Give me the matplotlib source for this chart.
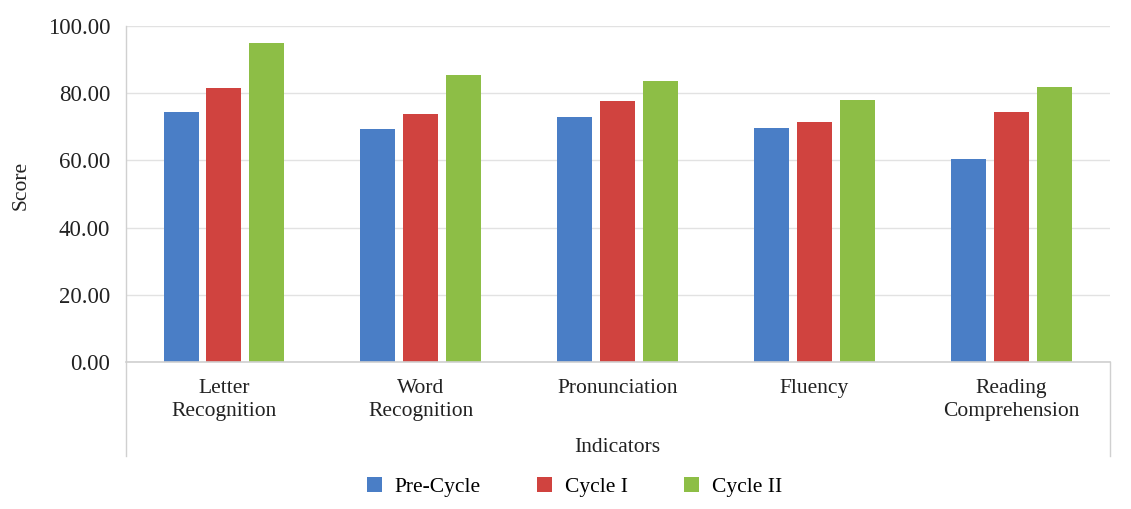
import matplotlib
matplotlib.use("Agg")
import matplotlib.pyplot as plt
import numpy as np
from matplotlib.lines import Line2D
from matplotlib.patches import Patch

categories = ["Letter\nRecognition", "Word\nRecognition", "Pronunciation", "Fluency", "Reading\nComprehension"]
series_names = ["Pre-Cycle", "Cycle I", "Cycle II"]
pre_cycle = [74.3, 69.3, 72.8, 69.5, 60.3]
cycle_1 = [81.5, 73.7, 77.6, 71.3, 74.3]
cycle_2 = [94.9, 85.4, 83.6, 77.9, 81.8]
yticks = [0, 20, 40, 60, 80, 100]

colors = ["#4A7EC6", "#D0433F", "#8DBE46"]

plt.rcParams['font.family'] = ['Liberation Serif', 'DejaVu Serif']

fig = plt.figure(figsize=(11.31, 5.09), dpi=100)
ax = fig.add_axes([0.111, 0.289, 0.870, 0.660])

x = np.arange(len(categories))
w = 0.178
off = 0.218
for i, (vals, c) in enumerate(zip([pre_cycle, cycle_1, cycle_2], colors)):
    ax.bar(x + (i - 1) * off, vals, width=w, color=c, zorder=3, label=series_names[i])

ax.set_xlim(-0.5, len(categories) - 0.5)
ax.set_ylim(0, 100)
ax.set_yticks(yticks)
ax.set_yticklabels([f"{v:.2f}" for v in yticks], fontsize=16.5, color="#222222")
ax.set_xticks(x)
ax.set_xticklabels(categories, fontsize=15.5, color="#222222", linespacing=1.3)
ax.tick_params(axis='both', length=0)
ax.tick_params(axis='x', pad=12)
ax.tick_params(axis='y', pad=11)

ax.grid(axis='y', color="#e2e2e2", linewidth=1.0, zorder=0)
for s in ['top', 'right', 'left']:
    ax.spines[s].set_visible(False)
ax.spines['bottom'].set_color("#cfcfcf")
ax.spines['bottom'].set_linewidth(1.2)
ax.spines['bottom'].set_zorder(4)

# frame lines extending below the axis
ax.add_line(Line2D([0, 0], [1.0, -0.28], transform=ax.transAxes, color="#d0d0d0",
                   linewidth=1.0, clip_on=False))
ax.add_line(Line2D([1, 1], [0.0, -0.28], transform=ax.transAxes, color="#d0d0d0",
                   linewidth=1.0, clip_on=False))

ax.text(0.5, -0.255, "Indicators", transform=ax.transAxes, ha='center', va='center',
        fontsize=15.5, color="#222222")
fig.text(0.019, 1 - 185 / 509, "Score", rotation=90, ha='center', va='center',
         fontsize=15.5, color="#222222")

handles = [Patch(facecolor=c, edgecolor='none') for c in colors]
fig.legend(handles, series_names, loc='center', bbox_to_anchor=(0.508, 1 - 487 / 509),
           ncol=3, frameon=False, fontsize=15.5, handlelength=0.7, handleheight=0.7,
           handletextpad=0.6, columnspacing=2.6)

fig.savefig("out.png", dpi=100, facecolor="white")
